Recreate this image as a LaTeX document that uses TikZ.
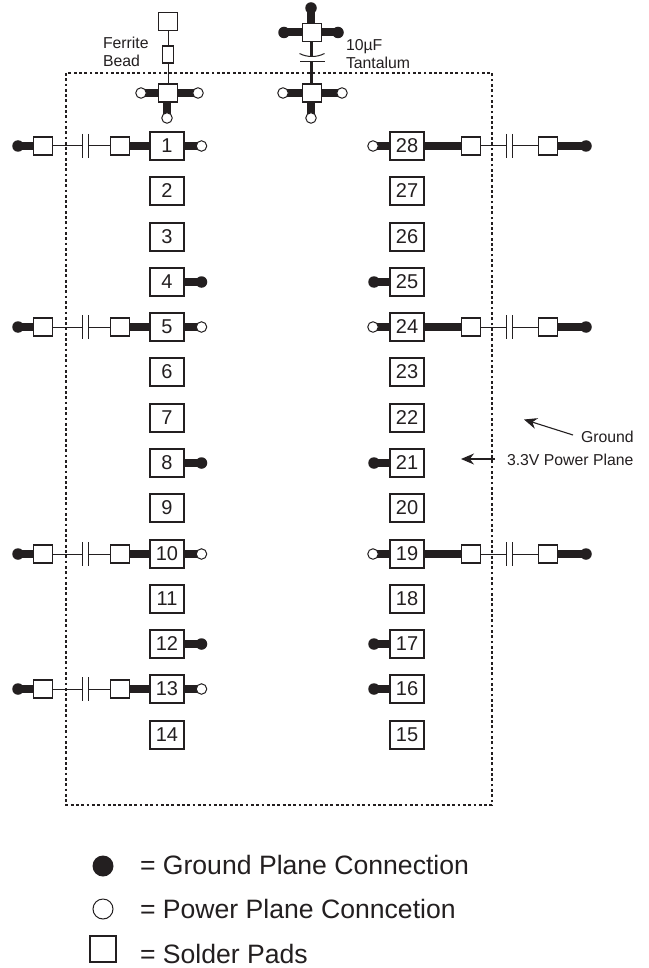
\documentclass[tikz,border=0pt]{standalone}
\usepackage{fontspec}
\setmainfont{Liberation Sans}
\usetikzlibrary{arrows.meta}
\pgfdeclarelayer{outline}
\pgfdeclarelayer{traces}
\pgfsetlayers{outline,traces,main}
\definecolor{ink}{HTML}{231F20}
\tikzset{
  x=1pt,y=-1pt,
  every node/.style={inner sep=0pt,outer sep=0pt,text=ink},
  pin/.style={draw=ink,line width=1.1pt,fill=white,minimum width=34pt,minimum height=28pt,font=\fontsize{20}{20}\selectfont},
  pad/.style={draw=ink,line width=1.1pt,fill=white,minimum width=19pt,minimum height=18pt},
  bead/.style={draw=ink,line width=1.1pt,fill=white,minimum width=10.5pt,minimum height=17pt},
  gnd/.style={circle,fill=ink,minimum size=11.5pt},
  pwr/.style={circle,draw=ink,line width=1pt,fill=white,minimum size=10.5pt},
  capgap/.style={fill=white,minimum width=6pt,minimum height=24pt},
  thick trace/.style={draw=ink,line width=8pt},
  thin trace/.style={draw=ink,line width=1pt},
  mid trace/.style={draw=ink,line width=2.8pt},
  plate/.style={draw=ink,line width=1pt},
  note/.style={font=\fontsize{15.8}{18}\selectfont,anchor=west},
  legend/.style={font=\fontsize{26.6}{28}\selectfont,anchor=west},
  pointer/.style={draw=ink,line width=1.1pt,-{Stealth[length=13pt,width=11pt]}},
}
\begin{document}
\begin{tikzpicture}
\useasboundingbox (0,0) rectangle (648,968);
% power plane outline
\coordinate (oa) at (66,73);
\coordinate (ob) at (492,805);
\begin{pgfonlayer}{outline}
\fill[white] (0,0) rectangle (648,968);
\draw[ink,line width=2.8pt,dash pattern=on 2.8pt off 2.5pt] (oa) rectangle (ob);
\end{pgfonlayer}
% pins
\foreach \n/\yy in {1/146,2/191,3/237,4/282,5/327,6/372,7/418,8/463,9/508,10/554,11/599,12/644,13/689,14/735}
  \node[pin] (p\n) at (167,\yy) {\n};
\foreach \n/\yy in {28/146,27/191,26/237,25/282,24/327,23/372,22/418,21/463,20/508,19/554,18/599,17/644,16/689,15/735}
  \node[pin] (p\n) at (407,\yy) {\n};
% left pins with decoupling chain and power via
\foreach \n/\yy in {1/146,5/327,10/554,13/689}{
  \node[gnd] (lb\n) at (18,\yy) {};
  \node[pad] (lo\n) at (43,\yy) {};
  \node[capgap] (lc\n) at (85,\yy) {};
  \node[pad] (li\n) at (120,\yy) {};
  \node[pwr] (lv\n) at (201.5,\yy) {};
  \begin{pgfonlayer}{traces}
  \draw[thick trace] (lb\n.center) -- (lo\n.center);
  \draw[thin trace] (lo\n.center) -- (li\n.center);
  \draw[thick trace] (li\n.center) -- (p\n.center);
  \draw[thick trace] (p\n.center) -- (lv\n.center);
  \end{pgfonlayer}
  \draw[plate] (lc\n.north west) -- (lc\n.south west);
  \draw[plate] (lc\n.north east) -- (lc\n.south east);
}
% right pins with decoupling chain and power via
\foreach \n/\yy in {28/146,24/327,19/554}{
  \node[pwr] (rv\n) at (373,\yy) {};
  \node[pad] (ri\n) at (471,\yy) {};
  \node[capgap] (rc\n) at (509,\yy) {};
  \node[pad] (ro\n) at (548,\yy) {};
  \node[gnd] (rb\n) at (586,\yy) {};
  \begin{pgfonlayer}{traces}
  \draw[thick trace] (rv\n.center) -- (p\n.center);
  \draw[thick trace] (p\n.center) -- (ri\n.center);
  \draw[thin trace] (ri\n.center) -- (ro\n.center);
  \draw[thick trace] (ro\n.center) -- (rb\n.center);
  \end{pgfonlayer}
  \draw[plate] (rc\n.north west) -- (rc\n.south west);
  \draw[plate] (rc\n.north east) -- (rc\n.south east);
}
% ground vias
\foreach \n/\yy in {4/282,8/463,12/644}{
  \node[gnd] (g\n) at (201.5,\yy) {};
  \begin{pgfonlayer}{traces}
  \draw[thick trace] (p\n.center) -- (g\n.center);
  \end{pgfonlayer}
}
\foreach \n/\yy in {25/282,21/463,17/644,16/689}{
  \node[gnd] (g\n) at (374,\yy) {};
  \begin{pgfonlayer}{traces}
  \draw[thick trace] (g\n.center) -- (p\n.center);
  \end{pgfonlayer}
}
% ferrite bead group
\node[pad] (ft) at (168,21.5) {};
\node[bead] (fb) at (168,54.5) {};
\node[pad] (fp) at (168,93) {};
\node[pwr] (fl) at (141,93) {};
\node[pwr] (fr) at (198,93) {};
\node[pwr] (fd) at (167,118) {};
\begin{pgfonlayer}{traces}
\draw[thin trace] (ft.center) -- (fb.center);
\draw[thin trace] (fb.center) -- (fp.center);
\draw[thick trace] (fp.center) -- (fl.center);
\draw[thick trace] (fp.center) -- (fr.center);
\draw[thick trace] (fp.center -| fd) -- (fd.center);
\end{pgfonlayer}
\node[note,align=left] at (103,51.5) {Ferrite\\Bead};
% tantalum group
\node[pad] (tp) at (312,32.5) {};
\node[gnd] (tl) at (284,32.5) {};
\node[gnd] (tr) at (338,32.5) {};
\node[gnd] (tu) at (311,8) {};
\node[pad] (bp) at (312,93) {};
\node[pwr] (bl) at (283,93) {};
\node[pwr] (br) at (342,93) {};
\node[pwr] (bd) at (311,118) {};
\coordinate (capu) at (311.5,56);
\coordinate (capd) at (311.5,62);
\begin{pgfonlayer}{traces}
\draw[mid trace] (tp.center -| capu) -- (capu);
\draw[mid trace] (capd) -- (bp.center -| capd);
\draw[thick trace] (tl.center) -- (tp.center);
\draw[thick trace] (tr.center) -- (tp.center);
\draw[thick trace] (tu.center) -- (tp.center -| tu);
\draw[thick trace] (bl.center) -- (bp.center);
\draw[thick trace] (br.center) -- (bp.center);
\draw[thick trace] (bd.center) -- (bp.center -| bd);
\end{pgfonlayer}
\draw[plate] (299.5,53.5) .. controls (307,57.5) and (317,57.5) .. (324.5,53.5);
\draw[plate] (300,62) -- (324.5,62);
\node[note,align=left] at (346,54) {10µF\\Tantalum};
% plane labels
\node[note] (lg) at (581,436.5) {Ground};
\node[note] (lp) at (507,459.5) {3.3V Power Plane};
\coordinate (ag) at (573,435);
\coordinate (tg) at (524,419.5);
\coordinate (ap) at (495,459);
\coordinate (tpp) at (461,459);
\draw[pointer] (ag) -- (tg);
\draw[pointer] (ap) -- (tpp);
% legend
\node[circle,fill=ink,minimum size=21pt] (k1) at (103,866) {};
\node[pwr,minimum size=20pt] (k2) at (103,909) {};
\node[pad,minimum width=26pt,minimum height=26pt] (k3) at (103,949) {};
\node[legend] at (140,865) {= Ground Plane Connection};
\node[legend] at (140,909) {= Power Plane Conncetion};
\node[legend] at (140,953.5) {= Solder Pads};
\end{tikzpicture}
\end{document}
